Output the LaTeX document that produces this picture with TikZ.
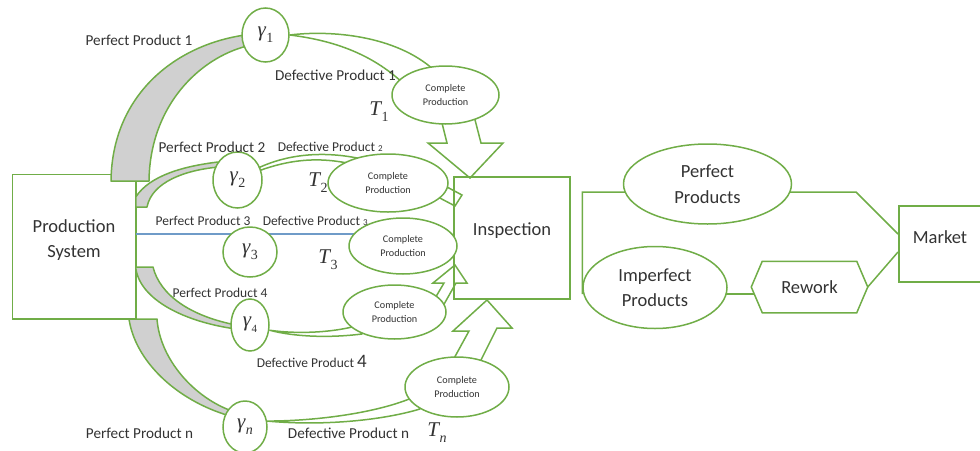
\documentclass[tikz,border=0pt]{standalone}
\usepackage{fontspec}
\setmainfont{Carlito}
\newfontfamily\symfont{Liberation Serif}
\usetikzlibrary{shapes.geometric,backgrounds}
\definecolor{grn}{HTML}{70AD47}
\definecolor{bandgray}{HTML}{D0D0D0}
\definecolor{flowblue}{HTML}{6F9BC8}
\definecolor{ink}{HTML}{333333}
% italic symbol with a lowered index
\newcommand{\symidx}[2]{{\symfont\itshape #1}\kern0.5pt\raisebox{-0.28em}{\symfont\fontsize{14}{14}\selectfont #2}}
\begin{document}
\begin{tikzpicture}[x=1pt,y=-1pt,line width=1.5pt,
  every node/.style={text=ink},
  flow/.style={draw=grn,line width=1.5pt},
  bandshape/.style={draw=grn,fill=bandgray,line width=1.5pt,line join=round},
  thinband/.style={draw=grn,fill=white,line width=1.5pt,line join=round},
  blockarrow/.style={draw=grn,fill=white,line width=1.5pt,line join=miter},
  blueline/.style={draw=flowblue,line width=1.2pt},
  plainbox/.style={draw=grn,rectangle,inner sep=0pt},
  hold/.style={draw=none,rectangle,inner sep=0pt},
  main/.style={align=center,inner sep=0pt,font=\fontsize{18.5}{25.5}\selectfont},
  bigoval/.style={ellipse,draw=grn,fill=white,inner sep=0pt,align=center,font=\fontsize{18.5}{25.5}\selectfont},
  gam/.style={ellipse,draw=grn,fill=white,inner sep=0pt,font=\fontsize{21}{23}\selectfont},
  cpnode/.style={ellipse,draw=grn,fill=white,inner sep=0pt,align=center,font=\fontsize{10.2}{14}\selectfont},
  lbl/.style={inner sep=0pt,font=\fontsize{15.2}{17}\selectfont},
  lblsm/.style={inner sep=0pt,font=\fontsize{13.5}{15}\selectfont},
  mlbl/.style={inner sep=0pt,font=\fontsize{21}{23}\selectfont}]
\useasboundingbox (0,0) rectangle (980,450);
\clip (0,0) rectangle (980,450);

% ---- blocks ----
\node[hold,minimum width=122pt,minimum height=143pt] (prod) at (74,246.5) {};
\node[main] (prodlbl) at (74,240) {Production\\System};
\node[plainbox,minimum width=116pt,minimum height=122pt] (insp) at (512,238) {};
\node[main] (insplbl) at (512,231) {Inspection};
\node[bigoval,minimum width=168pt,minimum height=80pt] (pp) at (707.5,184) {Perfect\\Products};
\node[bigoval,minimum width=144pt,minimum height=82pt] (ip) at (655,287.5) {Imperfect\\Products};
\node[hold,minimum width=115pt,minimum height=50pt] (rework) at (809.5,287) {};
\draw[flow,fill=white] (rework.west) -- ([xshift=11pt]rework.north west)
  -- ([xshift=-11pt]rework.north east) -- (rework.east)
  -- ([xshift=-11pt]rework.south east) -- ([xshift=11pt]rework.south west) -- cycle;
\node[main] (reworklbl) at (rework) {Rework};
\node[plainbox,minimum width=140pt,minimum height=76pt,anchor=west] (market) at (898,244) {};
\node[main] (marketlbl) at (940,237) {Market};

% ---- yield nodes ----
\node[gam,minimum width=47pt,minimum height=54pt] (g1) at (265.5,35) {\symidx{γ}{1}};
\node[gam,minimum width=49pt,minimum height=56pt] (g2) at (237.5,180) {\symidx{γ}{2}};
\node[gam,minimum width=54pt,minimum height=50pt] (g3) at (250,252) {\symidx{γ}{3}};
\node[gam,minimum width=38pt,minimum height=52pt] (g4) at (250,325) {\symidx{γ}{\fontsize{11}{11}\selectfont 4}};
\node[gam,minimum width=44pt,minimum height=52pt] (gn) at (245,427) {\symidx{γ}{\itshape n}};

% ---- completion nodes ----
\node[cpnode,minimum width=107pt,minimum height=58pt] (cp1) at (445.5,95) {Complete\\Production};
\node[cpnode,minimum width=120pt,minimum height=58pt] (cp2) at (388,183) {Complete\\Production};
\node[cpnode,minimum width=108pt,minimum height=56pt] (cp3) at (403,246) {Complete\\Production};
\node[cpnode,minimum width=103pt,minimum height=54pt] (cp4) at (394.5,312) {Complete\\Production};
\node[cpnode,minimum width=104pt,minimum height=60pt] (cpn) at (457,387) {Complete\\Production};

% ---- flow labels ----
\node[lbl] (pp1) at (139,40) {Perfect Product 1};
\node[lbl] (dp1) at (335.5,75) {Defective Product 1};
\node[mlbl] (t1) at (379,112) {\symidx{T}{1}};
\node[lbl] (pp2) at (212,147) {Perfect Product 2};
\node[lblsm,anchor=base west] (dp2) at (277,151.5) {Defective Product {\fontsize{9}{9}\selectfont 2}};
\node[mlbl] (t2) at (318,183) {\symidx{T}{2}};
\node[lblsm] (pp3) at (203,221) {Perfect Product 3};
\node[lblsm,anchor=base west] (dp3) at (262,225.5) {Defective Product {\fontsize{9}{9}\selectfont 3}};
\node[mlbl] (t3) at (328,260) {\symidx{T}{3}};
\node[lblsm] (pp4) at (220,293) {Perfect Product 4};
\node[lblsm,anchor=base west] (dp4) at (256,367) {Defective Product {\fontsize{19}{19}\selectfont 4}};
\node[lbl] (ppn) at (139.5,433) {Perfect Product n};
\node[lbl] (dpn) at (348.5,433) {Defective Product n};
\node[mlbl] (tn) at (437,433) {\symidx{T}{\itshape n}};

% ---- connectors ----
\coordinate (yTop) at (0,192);
\coordinate (yLow) at (0,294);
\coordinate (kink) at (856,192);
\coordinate (yBlue) at (0,234);

\begin{pgfonlayer}{background}
  \draw[flow] (prod.north west) rectangle (prod.south east);
  % perfect products leaving the production system
  \draw[bandshape] (111,181) .. controls (112,95) and (175,45) .. (245,35)
    -- (247,46) .. controls (200,58) and (150,105) .. (149,181) -- cycle;
  \draw[bandshape] (prod.east |- 0,197) .. controls (150,175) and (185,166) .. (218,162)
    -- (219,167) .. controls (185,170) and (152,182) .. (147,207) -- (prod.east |- 0,207) -- cycle;
  \draw[blueline] (prod.east |- yBlue) -- (cp3.center |- yBlue);
  \draw[bandshape] (prod.east |- 0,267) -- (153,267) .. controls (160,295) and (190,316) .. (236,325)
    -- (236,329) .. controls (185,322) and (140,300) .. (prod.east |- 0,268) -- cycle;
  \draw[bandshape] (129,319) -- (157,319) .. controls (160,360) and (195,398) .. (232,411)
    -- (230,416) .. controls (175,400) and (135,360) .. (129,319) -- cycle;
  % defective products to completion
  \draw[thinband] (g1.east) .. controls (330,30) and (395,35) .. (434,70)
    -- (404,84) .. controls (370,52) and (330,40) .. (g1.east);
  \draw[thinband] (g2.center) .. controls (280,150) and (330,151) .. (366,160)
    -- (352,164) .. controls (320,157) and (285,157) .. (g2.center);
  \draw[thinband] (g4.-15) .. controls (295,334) and (330,333) .. (356,326)
    -- (362,334) .. controls (330,338) and (295,337) .. (g4.-15);
  \draw[thinband] (gn.15) .. controls (320,421) and (380,412) .. (414,397)
    -- (420,409) .. controls (380,421) and (320,426) .. (gn.15);
  % block arrows into inspection
  \draw[blockarrow] (440,115) -- (447,143) -- (428,143) -- (470,178)
    -- (503,143) -- (481,143) -- (473,112) -- cycle;
  \draw[blockarrow] (436,196) -- (447,187) -- (462,195) -- (455,206) -- cycle;
  \draw[blockarrow] (434,300) -- (444,283) -- (433,283) -- (455,265)
    -- (467,283) -- (456,283) -- (443,306) -- cycle;
  \draw[blockarrow] (452,362) -- (469,331) -- (453,331) -- (487,300)
    -- (512,328) -- (497,328) -- (479,364) -- cycle;
  % inspection outcomes
  \draw[flow] (ip.west |- yLow) -- (ip.west |- yTop) -- (kink) -- ([yshift=10pt]market.west);
  \draw[flow] (ip.center |- yLow) -- (rework.center |- yLow);
  \draw[flow] (rework.east) -- ([yshift=-8pt]market.west);
\end{pgfonlayer}
\end{tikzpicture}
\end{document}
